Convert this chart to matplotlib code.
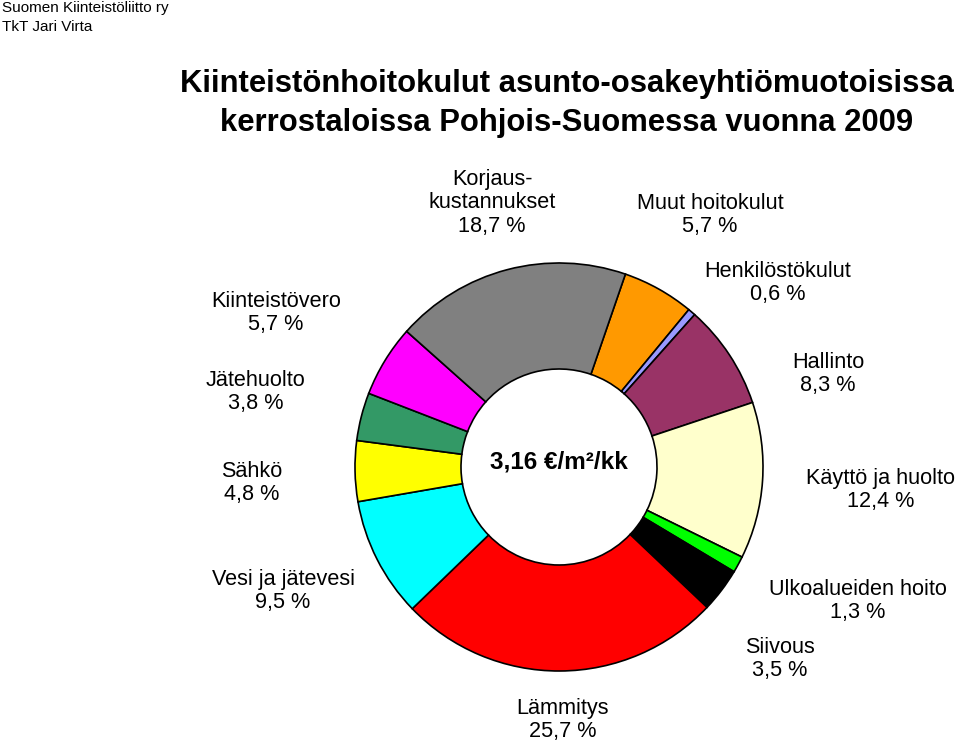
import matplotlib.pyplot as plt

plt.rcParams['font.family'] = ['Liberation Sans', 'DejaVu Sans']

# Data (clockwise, starting from "Muut hoitokulut")
categories = ['Muut hoitokulut', 'Henkilöstökulut', 'Hallinto', 'Käyttö ja huolto',
              'Ulkoalueiden hoito', 'Siivous', 'Lämmitys', 'Vesi ja jätevesi',
              'Sähkö', 'Jätehuolto', 'Kiinteistövero', 'Korjaus-\nkustannukset']
shares = [5.7, 0.6, 8.3, 12.4, 1.3, 3.5, 25.7, 9.5, 4.8, 3.8, 5.7, 18.7]
colors = ['#FF9900', '#9999FF', '#993366', '#FFFFCC', '#00FF00', '#000000',
          '#FF0000', '#00FFFF', '#FFFF00', '#339966', '#FF00FF', '#808080']
center_label = '3,16 €/m²/kk'

W, H = 960, 745
fig = plt.figure(figsize=(W / 100, H / 100), dpi=100)
ax = fig.add_axes([0, 0, 1, 1])

cx, cy = 559, H - 467
ax.pie(shares, colors=colors, startangle=71, counterclock=False,
       center=(cx, cy), radius=204,
       wedgeprops=dict(width=106, edgecolor='black', linewidth=1.2))
ax.set_xlim(0, W)
ax.set_ylim(0, H)
ax.set_aspect('equal')
ax.axis('off')

# label anchor positions in pixels (centre of text block), same order as data
label_pos = [(710, 215), (778, 283), (828, 374), (881, 490), (858, 601), (780, 659),
             (563, 720), (283, 591), (252, 483), (256, 392), (276, 313), (492, 203)]
for name, val, (x, y) in zip(categories, shares, label_pos):
    txt = f'{name}\n{val:.1f} %'.replace('.', ',')
    ax.text(x, H - y, txt, ha='center', va='center', fontsize=15.6, linespacing=1.15)

ax.text(cx, H - 462, center_label, ha='center', va='center', fontsize=17.5,
        fontweight='bold')

fig.text(567 / W, 1 - 84 / H, 'Kiinteistönhoitokulut asunto-osakeyhtiömuotoisissa',
         ha='center', va='center', fontsize=22.3, fontweight='bold')
fig.text(567 / W, 1 - 123 / H, 'kerrostaloissa Pohjois-Suomessa vuonna 2009',
         ha='center', va='center', fontsize=22.3, fontweight='bold')

fig.text(2 / W, 1 - 8 / H, 'Suomen Kiinteistöliitto ry', ha='left', va='center', fontsize=11)
fig.text(2 / W, 1 - 27 / H, 'TkT Jari Virta', ha='left', va='center', fontsize=11)

fig.savefig('out.png', dpi=100)
